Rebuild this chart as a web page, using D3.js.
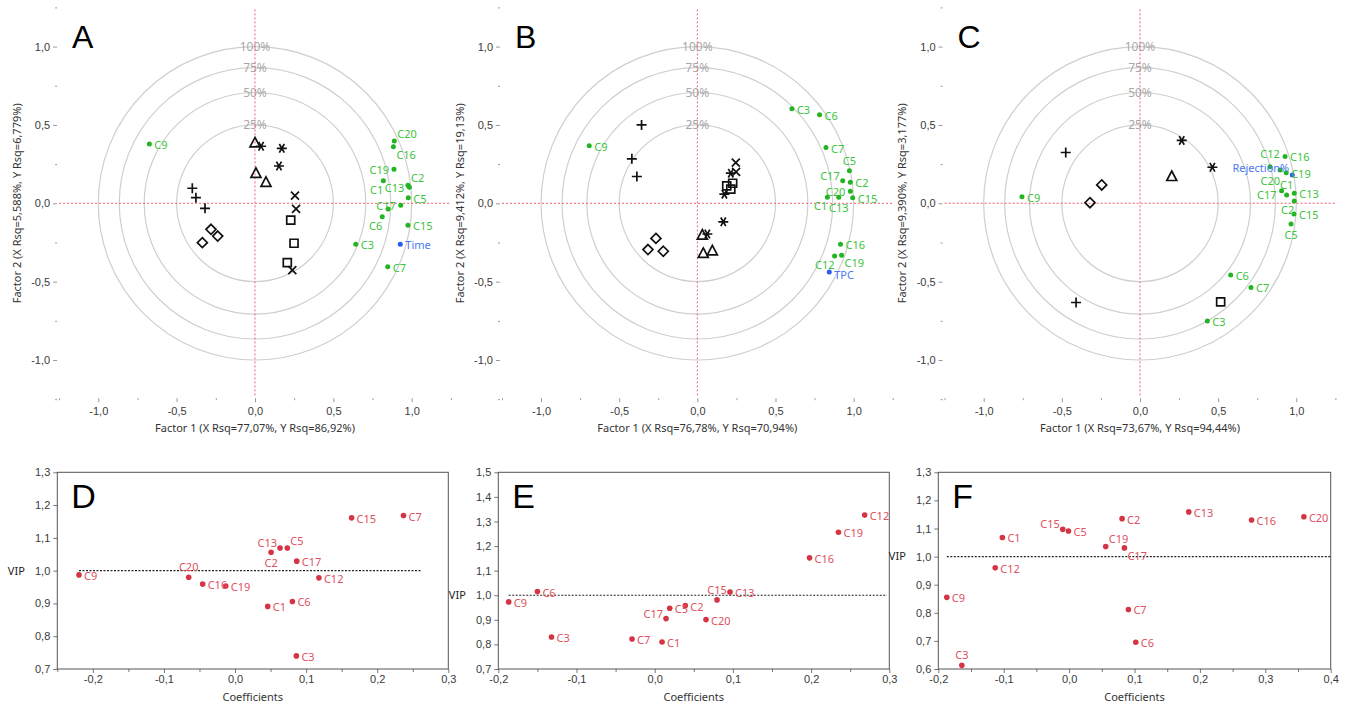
<!DOCTYPE html>
<html>
<head>
  <meta charset="utf-8">
  <title>Cargas PLS y VIP</title>
  <script src="https://d3js.org/d3.v7.min.js"></script>
  <style>
    body { margin: 0; background: #fff; }
    svg { font-family: "Noto Sans", "Open Sans", sans-serif; }
  </style>
</head>
<body>
  <svg id="grafico" width="1355" height="710"></svg>

  <script>
    // ---- cargas (nombre, factor 1, factor 2) ----
    const cargasA = [
      ["C9", -0.674, 0.379], ["C20", 0.889, 0.398], ["C16", 0.883, 0.361], ["C19", 0.887, 0.217],
      ["C1", 0.819, 0.144], ["C2", 0.976, 0.115], ["C13", 0.985, 0.102], ["C5", 0.978, 0.036],
      ["C17", 0.930, -0.013], ["C12", 0.849, -0.036], ["C6", 0.812, -0.086], ["C15", 0.976, -0.140],
      ["C3", 0.643, -0.262], ["C7", 0.847, -0.405]
    ];
    const respuestaA = ["Time", 0.927, -0.262];
    const muestrasA = [
      ["plus", -0.400, 0.096], ["plus", -0.377, 0.036], ["plus", -0.319, -0.032],
      ["diamond", -0.281, -0.166], ["diamond", -0.238, -0.209], ["diamond", -0.336, -0.251],
      ["triangle", 0.000, 0.385], ["triangle", 0.006, 0.191], ["triangle", 0.070, 0.134],
      ["star", 0.039, 0.364], ["star", 0.171, 0.351], ["star", 0.153, 0.238],
      ["x", 0.255, 0.049], ["x", 0.262, -0.036], ["x", 0.238, -0.427],
      ["square", 0.228, -0.107], ["square", 0.249, -0.255], ["square", 0.206, -0.379]
    ];

    const cargasB = [
      ["C9", -0.692, 0.368], ["C3", 0.605, 0.603], ["C6", 0.782, 0.565], ["C7", 0.823, 0.356],
      ["C5", 0.973, 0.208], ["C17", 0.930, 0.144], ["C2", 0.979, 0.134], ["C20", 0.979, 0.077],
      ["C1", 0.832, 0.038], ["C13", 0.905, 0.038], ["C15", 0.994, 0.036], ["C16", 0.916, -0.261],
      ["C12", 0.878, -0.336], ["C19", 0.923, -0.331]
    ];
    const respuestaB = ["TPC", 0.844, -0.439];
    const muestrasB = [
      ["plus", -0.357, 0.500], ["plus", -0.419, 0.284], ["plus", -0.387, 0.171],
      ["diamond", -0.265, -0.224], ["diamond", -0.316, -0.295], ["diamond", -0.218, -0.306],
      ["triangle", 0.032, -0.203], ["triangle", 0.038, -0.320], ["triangle", 0.096, -0.303],
      ["star", 0.214, 0.192], ["star", 0.173, 0.058], ["star", 0.166, -0.118], ["star", 0.064, -0.196],
      ["x", 0.246, 0.260], ["x", 0.248, 0.200],
      ["square", 0.188, 0.111], ["square", 0.226, 0.128], ["square", 0.214, 0.090]
    ];

    const cargasC = [
      ["C9", -0.755, 0.041], ["C16", 0.928, 0.299], ["C12", 0.832, 0.234], ["C20", 0.896, 0.213],
      ["C19", 0.935, 0.195], ["C17", 0.906, 0.080], ["C1", 0.938, 0.053], ["C13", 0.987, 0.064],
      ["C2", 0.987, 0.015], ["C15", 0.985, -0.068], ["C5", 0.966, -0.132], ["C6", 0.580, -0.458],
      ["C7", 0.710, -0.537], ["C3", 0.431, -0.751]
    ];
    const respuestaC = ["Rejection%", 0.974, 0.181];
    const muestrasC = [
      ["plus", -0.475, 0.324], ["plus", -0.409, -0.633],
      ["diamond", -0.245, 0.117], ["diamond", -0.320, 0.004],
      ["triangle", 0.203, 0.171],
      ["star", 0.267, 0.401], ["star", 0.463, 0.230],
      ["square", 0.516, -0.629]
    ];

    const anillos = [1, Math.sqrt(0.75), Math.sqrt(0.5), Math.sqrt(0.25)];
    const anillosTexto = ["100%", "75%", "50%", "25%"];
    const ticksFactor = [-1, -0.5, 0, 0.5, 1];

    // ---- VIP (nombre, coeficiente, VIP) ----
    const vipD = [
      ["C9", -0.2195, 0.987], ["C20", -0.0652, 0.980], ["C16", -0.0455, 0.959], ["C19", -0.0131, 0.953],
      ["C1", 0.046, 0.891], ["C6", 0.0807, 0.906], ["C3", 0.0863, 0.740], ["C2", 0.0507, 1.056],
      ["C13", 0.0633, 1.069], ["C5", 0.0736, 1.069], ["C17", 0.0868, 1.029], ["C12", 0.118, 0.978],
      ["C15", 0.164, 1.161], ["C7", 0.237, 1.168]
    ];
    const vipE = [
      ["C9", -0.1867, 0.973], ["C6", -0.150, 1.015], ["C3", -0.132, 0.830], ["C7", -0.029, 0.822],
      ["C1", 0.0094, 0.810], ["C17", 0.0145, 0.905], ["C5", 0.0192, 0.947], ["C2", 0.0392, 0.958],
      ["C20", 0.0656, 0.901], ["C15", 0.0797, 0.981], ["C13", 0.0963, 1.013], ["C16", 0.198, 1.152],
      ["C19", 0.235, 1.256], ["C12", 0.2685, 1.326]
    ];
    const vipF = [
      ["C9", -0.187, 0.855], ["C3", -0.164, 0.613], ["C12", -0.113, 0.960], ["C1", -0.102, 1.068],
      ["C15", -0.0097, 1.097], ["C5", -0.001, 1.091], ["C19", 0.056, 1.036], ["C17", 0.0846, 1.031],
      ["C2", 0.081, 1.135], ["C7", 0.0907, 0.812], ["C6", 0.102, 0.695], ["C13", 0.183, 1.159],
      ["C16", 0.279, 1.130], ["C20", 0.359, 1.142]
    ];
    const dominioCoefD = [-0.25, 0.3], dominioVipD = [0.7, 1.3], umbralD = [-0.2195, 0.262];
    const dominioCoefE = [-0.2, 0.3], dominioVipE = [0.7, 1.5], umbralE = [-0.1867, 0.297];
    const dominioCoefF = [-0.2, 0.4], dominioVipF = [0.6, 1.3], umbralF = [-0.187, 0.4];

    // ---- donde va cada etiqueta (estilo) ----
    const colocar = {
      r: [5, 5, "start"], l: [-5, 5, "end"],
      ru: [3, -3, "start"], rd: [3, 12, "start"],
      lu: [-3, -1, "end"], ld: [0, 13, "end"], ldd: [0, 15, "end"],
      lj: [-3, -3, "end"], lb: [-5, 8, "end"],
      u: [0, -6, "middle"], uu: [0, -9, "middle"], d: [0, 15, "middle"],
      rb: [5, 7, "start"]
    };
    const etiquetasA = { C20: "ru", C16: "rd", C19: "l", C1: "ld", C2: "ru", C13: "l", C17: "l", C12: "", C6: "ld" };
    const etiquetasB = { C5: "u", C17: "lu", C20: "l", C1: "ld", C13: "d", C12: "ld", C19: "rd", TPC: "rb" };
    const etiquetasC = { C12: "uu", C20: "ldd", C17: "lb", C1: "u", C2: "ld", C5: "d", "Rejection%": "lj" };
    const etiquetasD = { C20: "u", C2: "d", C13: "lu", C5: "ru" };
    const etiquetasE = { C17: "lu", C15: "u" };
    const etiquetasF = { C3: "u", C15: "lu", C19: "ru", C17: "rd" };

    const verde = "#22b422", verdeTexto = "#3cc43c";
    const azul = "#2a5cf0", azulTexto = "#4a78f2";
    const rojo = "#d43444", rojoTexto = "#e0505e";

    const es = d3.formatLocale({ decimal: ",", thousands: ".", grouping: [3], currency: ["", ""], minus: "-" });
    const fmt = es.format(".1f");

    const svg = d3.select("#grafico");

    function etiqueta(g, texto, px, py, pos, color) {
      if (pos === "") return;
      const c = colocar[pos || "r"];
      g.append("text")
        .attr("x", px + c[0])
        .attr("y", py + c[1])
        .attr("text-anchor", c[2])
        .style("font-size", "11px")
        .style("fill", color)
        .text(texto);
    }

    function marca(g, tipo, cx, cy) {
      const p = d3.path();
      if (tipo === "plus") {
        p.moveTo(cx - 5, cy); p.lineTo(cx + 5, cy);
        p.moveTo(cx, cy - 5); p.lineTo(cx, cy + 5);
      } else if (tipo === "x") {
        p.moveTo(cx - 4, cy - 4); p.lineTo(cx + 4, cy + 4);
        p.moveTo(cx - 4, cy + 4); p.lineTo(cx + 4, cy - 4);
      } else if (tipo === "star") {
        [0, 60, 120].forEach(a => {
          const r = a * Math.PI / 180, dx = 5 * Math.cos(r), dy = 5 * Math.sin(r);
          p.moveTo(cx - dx, cy - dy); p.lineTo(cx + dx, cy + dy);
        });
      } else if (tipo === "triangle") {
        p.moveTo(cx, cy - 5.5); p.lineTo(cx + 5, cy + 4); p.lineTo(cx - 5, cy + 4); p.closePath();
      } else if (tipo === "square") {
        p.rect(cx - 4, cy - 4, 8, 8);
      } else if (tipo === "diamond") {
        p.moveTo(cx, cy - 5); p.lineTo(cx + 5, cy); p.lineTo(cx, cy + 5); p.lineTo(cx - 5, cy); p.closePath();
      }
      g.append("path")
        .attr("d", p.toString())
        .style("fill", "none")
        .style("stroke", "#111")
        .style("stroke-width", 1.7);
    }

    function panelCargas(izq, der, letra, cargas, respuesta, muestras, etiquetas, tituloX, tituloY) {
      const arriba = 7.4, abajo = 399.2;
      const x = d3.scaleLinear().domain([-1.25, 1.25]).range([izq, der]);
      const y = d3.scaleLinear().domain([-1.25, 1.25]).range([abajo, arriba]);
      const g = svg.append("g");

      // anillos
      anillos.forEach((r, i) => {
        g.append("ellipse")
          .attr("cx", x(0)).attr("cy", y(0))
          .attr("rx", x(r) - x(0)).attr("ry", y(0) - y(r))
          .style("fill", "none").style("stroke", "#cfcfcf").style("stroke-width", 1.2);
      });
      anillos.forEach((r, i) => {
        g.append("text")
          .attr("x", x(0)).attr("y", y(r))
          .attr("text-anchor", "middle").attr("dy", "0.35em")
          .style("font-size", "12px").style("fill", "#a8a8a8")
          .text(anillosTexto[i]);
      });

      // lineas de cero
      g.append("line")
        .attr("x1", x(0)).attr("x2", x(0)).attr("y1", arriba + 2).attr("y2", abajo - 2)
        .style("stroke", "#f06270").style("stroke-dasharray", "2,2").style("stroke-width", 1);
      g.append("line")
        .attr("x1", izq).attr("x2", der).attr("y1", y(0)).attr("y2", y(0))
        .style("stroke", "#f06270").style("stroke-dasharray", "2,2").style("stroke-width", 1);

      // ejes
      const ejeY = g.append("g").attr("transform", `translate(${izq - 2},0)`)
        .call(d3.axisLeft(y).tickValues(ticksFactor).tickSize(4).tickPadding(3).tickFormat(fmt));
      const ejeY2 = g.append("g").attr("transform", `translate(${izq - 2},0)`)
        .call(d3.axisLeft(y).tickValues([-1.25, -0.75, -0.25, 0.25, 0.75, 1.25]).tickSize(2).tickFormat(""));
      const ejeX = g.append("g").attr("transform", `translate(0,${abajo - 1})`)
        .call(d3.axisBottom(x).tickValues(ticksFactor).tickSize(4).tickPadding(5).tickFormat(fmt));
      const ejeX2 = g.append("g").attr("transform", `translate(0,${abajo - 1})`)
        .call(d3.axisBottom(x).tickValues([-1.25, -0.75, -0.25, 0.25, 0.75, 1.25]).tickSize(2).tickFormat(""));
      [ejeY, ejeY2, ejeX, ejeX2].forEach(e => {
        e.select(".domain").remove();
        e.selectAll("line").style("stroke", "#999");
        e.selectAll("text").style("font-size", "11px").style("fill", "#3a3a3a").style("font-family", null);
      });

      g.append("text")
        .attr("x", (izq + der) / 2).attr("y", abajo + 33)
        .attr("text-anchor", "middle")
        .style("font-size", "11px").style("fill", "#333")
        .text(tituloX);
      g.append("text")
        .attr("transform", `translate(${izq - 42},${y(0)}) rotate(-90)`)
        .attr("text-anchor", "middle").attr("dy", "0.35em")
        .style("font-size", "11px").style("fill", "#333")
        .text(tituloY);

      g.append("text")
        .attr("x", izq + 13).attr("y", 48)
        .style("font-family", "'Liberation Sans', Arial, sans-serif")
        .style("font-size", "32px").style("fill", "#000")
        .text(letra);

      // muestras
      muestras.forEach(m => marca(g, m[0], x(m[1]), y(m[2])));

      // cargas
      g.selectAll(".carga")
        .data(cargas)
        .enter()
        .append("circle")
        .attr("class", "carga")
        .attr("cx", d => x(d[1])).attr("cy", d => y(d[2]))
        .attr("r", 2.5)
        .style("fill", verde);
      g.append("circle")
        .attr("cx", x(respuesta[1])).attr("cy", y(respuesta[2]))
        .attr("r", 2.5).style("fill", azul);

      cargas.forEach(d => etiqueta(g, d[0], x(d[1]), y(d[2]), etiquetas[d[0]], verdeTexto));
      etiqueta(g, respuesta[0], x(respuesta[1]), y(respuesta[2]), etiquetas[respuesta[0]], azulTexto);
    }

    function panelVip(izq, der, letra, datos, domX, domY, umbral, etiquetas) {
      const arriba = 472.3, abajo = 669;
      const x = d3.scaleLinear().domain(domX).range([izq, der]);
      const y = d3.scaleLinear().domain(domY).range([abajo, arriba]);
      const g = svg.append("g");

      const mayoresX = d3.range(Math.round(domX[0] * 10), Math.round(domX[1] * 10) + 1).map(v => v / 10);
      const menoresX = d3.range(Math.round(domX[0] * 20), Math.round(domX[1] * 20) + 1)
        .filter(v => v % 2 !== 0).map(v => v / 20);
      const mayoresY = d3.range(Math.round(domY[0] * 10), Math.round(domY[1] * 10) + 1).map(v => v / 10);

      const ejeY = g.append("g").attr("transform", `translate(${izq},0)`)
        .call(d3.axisLeft(y).tickValues(mayoresY).tickSize(4).tickPadding(3).tickFormat(fmt));
      const ejeX = g.append("g").attr("transform", `translate(0,${abajo})`)
        .call(d3.axisBottom(x).tickValues(mayoresX).tickSize(4).tickPadding(2).tickFormat(fmt));
      const ejeX2 = g.append("g").attr("transform", `translate(0,${abajo})`)
        .call(d3.axisBottom(x).tickValues(menoresX).tickSize(3).tickFormat(""));
      [ejeY, ejeX, ejeX2].forEach(e => {
        e.select(".domain").remove();
        e.selectAll("line").style("stroke", "#777");
        e.selectAll("text").style("font-size", "11px").style("fill", "#3a3a3a").style("font-family", null);
      });

      g.append("rect")
        .attr("x", izq).attr("y", arriba)
        .attr("width", der - izq).attr("height", abajo - arriba)
        .style("fill", "none").style("stroke", "#555").style("stroke-width", 1);

      g.append("line")
        .attr("x1", x(umbral[0])).attr("x2", x(umbral[1]))
        .attr("y1", y(1)).attr("y2", y(1))
        .style("stroke", "#222").style("stroke-dasharray", "2,1.5").style("stroke-width", 1.2);

      g.append("text")
        .attr("x", izq - 41).attr("y", y(1)).attr("dy", "0.35em")
        .attr("text-anchor", "middle")
        .style("font-size", "11px").style("fill", "#222")
        .text("VIP");
      g.append("text")
        .attr("x", (izq + der) / 2).attr("y", 701)
        .attr("text-anchor", "middle")
        .style("font-size", "11px").style("fill", "#333")
        .text("Coefficients");

      g.append("text")
        .attr("x", izq + 14).attr("y", 508)
        .style("font-family", "'Liberation Sans', Arial, sans-serif")
        .style("font-size", "34px").style("fill", "#000")
        .text(letra);

      g.selectAll(".vip")
        .data(datos)
        .enter()
        .append("circle")
        .attr("class", "vip")
        .attr("cx", d => x(d[1])).attr("cy", d => y(d[2]))
        .attr("r", 2.8)
        .style("fill", rojo);
      datos.forEach(d => etiqueta(g, d[0], x(d[1]), y(d[2]), etiquetas[d[0]], rojoTexto));
    }

    panelCargas(59.1, 450.9, "A", cargasA, respuestaA, muestrasA, etiquetasA,
      "Factor 1 (X Rsq=77,07%, Y Rsq=86,92%)", "Factor 2 (X Rsq=5,588%, Y Rsq=6,779%)");
    panelCargas(502, 892.7, "B", cargasB, respuestaB, muestrasB, etiquetasB,
      "Factor 1 (X Rsq=76,78%, Y Rsq=70,94%)", "Factor 2 (X Rsq=9,412%, Y Rsq=19,13%)");
    panelCargas(944.6, 1335.4, "C", cargasC, respuestaC, muestrasC, etiquetasC,
      "Factor 1 (X Rsq=73,67%, Y Rsq=94,44%)", "Factor 2 (X Rsq=9,390%, Y Rsq=3,177%)");

    panelVip(57.3, 448.3, "D", vipD, dominioCoefD, dominioVipD, umbralD, etiquetasD);
    panelVip(498.3, 889.3, "E", vipE, dominioCoefE, dominioVipE, umbralE, etiquetasE);
    panelVip(938.3, 1330.7, "F", vipF, dominioCoefF, dominioVipF, umbralF, etiquetasF);
  </script>
</body>
</html>
